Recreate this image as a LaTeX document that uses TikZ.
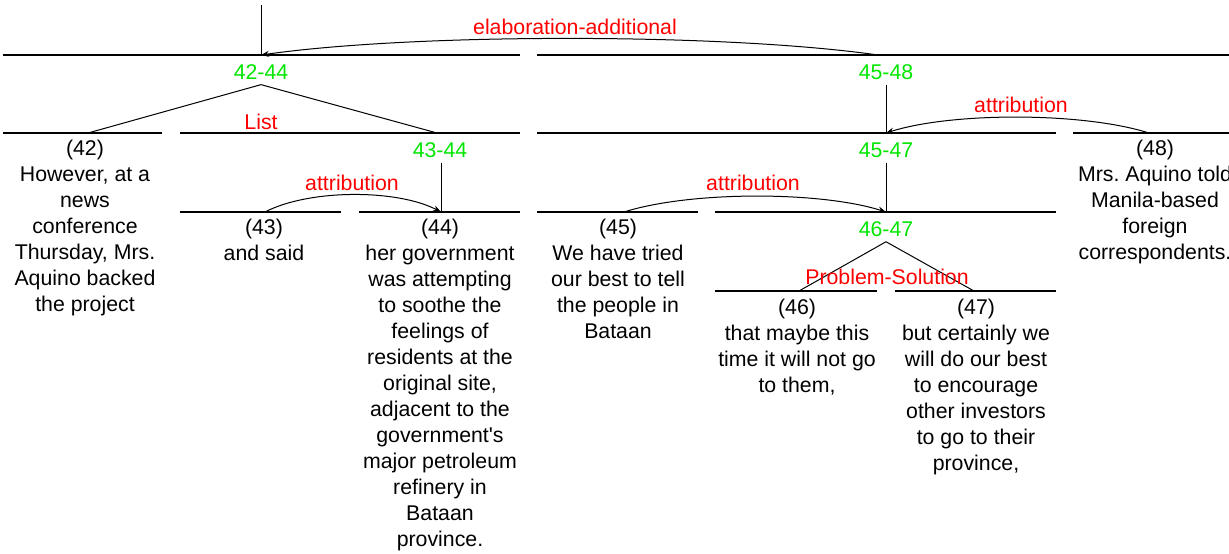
\documentclass[tikz,border=0pt]{standalone}
\usepackage{fontspec}
\setmainfont{Liberation Sans}
\usetikzlibrary{arrows.meta}
\definecolor{spangreen}{RGB}{0,230,0}
\definecolor{relred}{RGB}{255,0,0}
\newcommand{\treefont}{\fontsize{21.3}{26}\selectfont}
\frenchspacing
\tikzset{
  bar/.style={line width=1.3pt},
  link/.style={line width=1pt},
  relarrow/.style={line width=1pt,-{Stealth[length=8pt,width=6pt]}},
  seg/.style={font=\treefont, align=center, inner sep=0pt, anchor=north},
  spanlbl/.style={font=\treefont, text=spangreen, inner sep=5pt},
  rellbl/.style={font=\treefont, text=relred, inner sep=0pt}
}
\begin{document}
\begin{tikzpicture}[x=1pt,y=-1pt]
\useasboundingbox (0,0) rectangle (1229,554);
\clip (0,0) rectangle (1229,554);

% span bars
\draw[bar] (3,55) -- (520,55);  \draw[bar] (537,55) -- (1229,55);
\draw[bar] (3,133) -- (162,133); \draw[bar] (180,133) -- (520,133);
\draw[bar] (537,133) -- (1056,133); \draw[bar] (1073,133) -- (1229,133);
\draw[bar] (180,212) -- (341,212); \draw[bar] (359,212) -- (520,212);
\draw[bar] (537,212) -- (698,212); \draw[bar] (715,212) -- (1056,212);
\draw[bar] (715,291) -- (877,291); \draw[bar] (895,291) -- (1056,291);

% attachment points on the bars
\coordinate (root) at (261,5);
\coordinate (a4244) at (261,55);
\coordinate (a4548) at (878,55);
\coordinate (t42) at (88,133);
\coordinate (t4344) at (437,133);
\coordinate (t4548) at (886,133);
\coordinate (t48) at (1149,133);
\coordinate (t43) at (265,212);
\coordinate (t44) at (441,212);
\coordinate (t45) at (624,212);
\coordinate (t4647) at (886,212);
\coordinate (t46) at (799,291);
\coordinate (t47) at (974,291);

% span labels
\node[spanlbl] (s4244) at (261,72) {42-44};
\node[spanlbl] (s4548) at (886,72) {45-48};
\node[spanlbl] (s4344) at (440,150) {43-44};
\node[spanlbl] (s4547) at (886,150) {45-47};
\node[spanlbl] (s4647) at (886,229) {46-47};

% tree links
\draw[link] (root) -- (a4244);
\draw[link] (s4244.south) -- (t42);
\draw[link] (s4244.south) -- (t4344);
\draw[link] (s4548.south) -- (t4548);
\draw[link] (s4344.south -| t44) -- (t44);
\draw[link] (s4547.south) -- (t4647);
\draw[link] (s4647.south) -- (t46);
\draw[link] (s4647.south) -- (t47);

% relation arcs
\draw[relarrow] (a4548) .. controls (724,33) and (415,33) .. (a4244);
\draw[relarrow] (t48) .. controls (1083,112) and (952,112) .. (t4548);
\draw[relarrow] (t43) .. controls (309,189) and (397,189) .. (t44);
\draw[relarrow] (t45) .. controls (690,191) and (820,191) .. (t4647);

% relation labels
\node[rellbl] (relab) at (575,27) {elaboration-additional};
\node[rellbl] (rlist) at (261,122) {List};
\node[rellbl] (rattr48) at (1021,105) {attribution};
\node[rellbl] (rattr43) at (352,183) {attribution};
\node[rellbl] (rattr45) at (753,183) {attribution};
\node[rellbl] (rprob) at (887,277) {Problem-Solution};

% elementary segments
\node[seg] (e42) at (85,140) {(42)\\However, at a\\news\\conference\\Thursday, Mrs.\\Aquino backed\\the project};
\node[seg] (e43) at (264,219) {(43)\\and said};
\node[seg] (e44) at (440,219) {(44)\\her government\\was attempting\\to soothe the\\feelings of\\residents at the\\original site,\\adjacent to the\\government\textquotesingle s\\major petroleum\\refinery in\\Bataan\\province.};
\node[seg] (e45) at (618,219) {(45)\\We have tried\\our best to tell\\the people in\\Bataan};
\node[seg] (e46) at (797,299) {(46)\\that maybe this\\time it will not go\\to them,};
\node[seg] (e47) at (976,299) {(47)\\but certainly we\\will do our best\\to encourage\\other investors\\to go to their\\province,};
\node[seg] (e48) at (1155,140) {(48)\\Mrs. Aquino told\\Manila-based\\foreign\\correspondents.};
\end{tikzpicture}
\end{document}
